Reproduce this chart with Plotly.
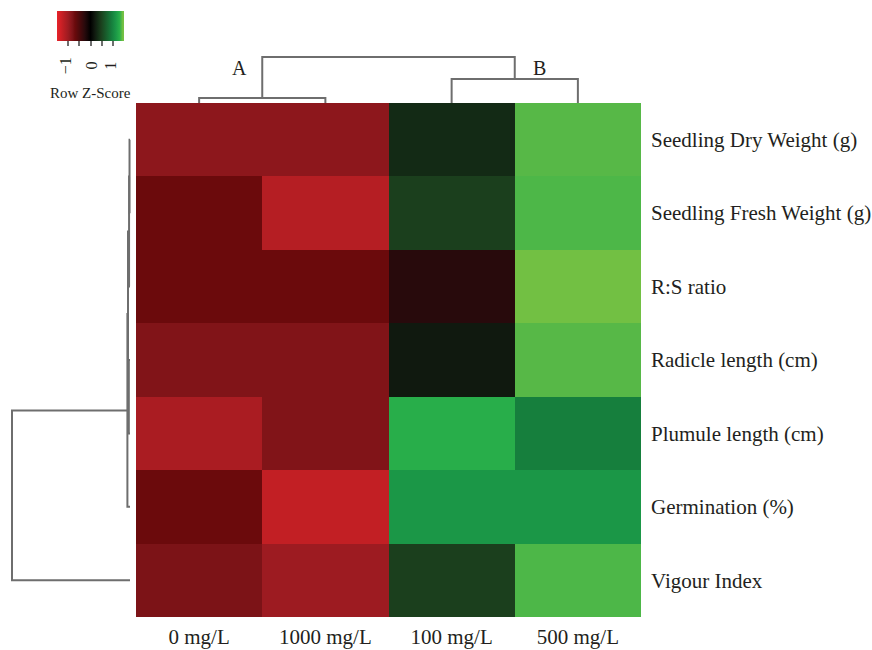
import plotly.graph_objects as go

# Treatments (column order after clustering) and traits (row order after clustering)
treatments = ["0 mg/L", "1000 mg/L", "100 mg/L", "500 mg/L"]
traits = [
    "Seedling Dry Weight (g)",
    "Seedling Fresh Weight (g)",
    "R:S ratio",
    "Radicle length (cm)",
    "Plumule length (cm)",
    "Germination (%)",
    "Vigour Index",
]

# Row-scaled values (Row Z-Score), one list per trait, in treatment order
z_dry_weight = [-0.90, -0.90, 0.31, 1.39]
z_fresh_weight = [-0.70, -1.16, 0.47, 1.37]
z_rs_ratio = [-0.70, -0.70, -0.26, 1.44]
z_radicle = [-0.83, -0.83, 0.19, 1.39]
z_plumule = [-1.09, -0.83, 1.30, 0.95]
z_germination = [-0.70, -1.25, 1.13, 1.13]
z_vigour = [-0.80, -1.00, 0.47, 1.37]
z_rows = [z_dry_weight, z_fresh_weight, z_rs_ratio, z_radicle,
          z_plumule, z_germination, z_vigour]

# Hierarchical clustering (scipy-style linkage: child a, child b, merge height)
col_linkage = [[0, 1, 0.11], [2, 3, 0.52], [4, 5, 1.00]]
row_linkage = [[0, 1, 0.004], [7, 2, 0.008], [3, 4, 0.010],
               [8, 9, 0.017], [10, 5, 0.022], [11, 6, 1.00]]

# Key ticks and labelled values
key_tickvals = [-1, -0.5, 0, 0.5, 1]
key_labels = [(-1, "\u22121"), (0, "0"), (1, "1")]

# ---- figure geometry (pixels) ----
W, H = 872, 650
HX0, HX1 = 136, 641      # heatmap left/right
HY0, HY1 = 103, 617      # heatmap top/bottom
KEY_X0, KEY_LEN = 57, 67  # colour key left edge and length
KEY_Y0, KEY_T = 11, 30    # colour key top edge and thickness
SERIF = "Liberation Serif, Times New Roman, serif"
TEXT = "#231f20"
TREE = "#6e6e6e"


def px_x(p):
    return p / W


def px_y(p):
    return 1 - p / H


# red - black - green colour ramp over z in [-1.5, 1.5]
ZMIN, ZMAX = -1.5, 1.5
ramp = [
    (-1.50, "#e8232a"), (-1.25, "#c21f24"), (-1.00, "#9d1b21"),
    (-0.80, "#7c1317"), (-0.70, "#6b0a0c"), (-0.26, "#280a0c"),
    (0.00, "#000000"), (0.19, "#10190f"), (0.31, "#132a15"),
    (0.47, "#1b3f1d"), (0.95, "#167f3d"), (1.13, "#1b9747"),
    (1.30, "#28ae4a"), (1.37, "#4db748"), (1.40, "#5cb946"),
    (1.44, "#72c043"), (1.50, "#76c244"),
]
colorscale = [[(z - ZMIN) / (ZMAX - ZMIN), c] for z, c in ramp]


def key_px(v):
    """Horizontal pixel position of value v on the colour key."""
    return KEY_X0 + (v - ZMIN) / (ZMAX - ZMIN) * KEY_LEN


def dendro_segments(linkage, n):
    """Return lists of (position, height) coordinates for U-shaped links."""
    pos = {i: float(i) for i in range(n)}
    hgt = {i: 0.0 for i in range(n)}
    P, Hh = [], []
    for k, (a, b, h) in enumerate(linkage):
        node = n + k
        P += [pos[a], pos[a], pos[b], pos[b], None]
        Hh += [hgt[a], h, h, hgt[b], None]
        pos[node] = (pos[a] + pos[b]) / 2
        hgt[node] = h
    return P, Hh


fig = go.Figure()

fig.add_trace(go.Heatmap(
    z=z_rows, x=treatments, y=traits,
    zmin=ZMIN, zmax=ZMAX, colorscale=colorscale,
    xgap=0, ygap=0, hoverongaps=False,
    colorbar=dict(
        orientation="h",
        x=px_x(KEY_X0), xanchor="left", xref="paper",
        y=px_y(KEY_Y0), yanchor="top", yref="paper",
        lenmode="pixels", len=KEY_LEN, thickness=KEY_T,
        xpad=0, ypad=0, outlinewidth=0,
        tickmode="array", tickvals=key_tickvals,
        ticktext=[""] * len(key_tickvals),
        ticks="outside", ticklen=5, tickwidth=2, tickcolor="#6e6e6e",
    ),
))

# column dendrogram (top)
cp, ch = dendro_segments(col_linkage, len(treatments))
fig.add_trace(go.Scatter(x=cp, y=ch, mode="lines", xaxis="x2", yaxis="y2",
                         line=dict(color=TREE, width=2), hoverinfo="skip",
                         showlegend=False, connectgaps=False))

# row dendrogram (left)
rp, rh = dendro_segments(row_linkage, len(traits))
fig.add_trace(go.Scatter(x=rh, y=rp, mode="lines", xaxis="x3", yaxis="y3",
                         line=dict(color=TREE, width=2), hoverinfo="skip",
                         showlegend=False, connectgaps=False))

top_unit = 46.0    # px per unit height, top tree
left_unit = 118.0  # px per unit height, left tree

annotations = [
    dict(text="A", x=px_x(239), y=px_y(68)),
    dict(text="B", x=px_x(539), y=px_y(68)),
]
for a in annotations:
    a.update(xref="paper", yref="paper", xanchor="center", yanchor="middle",
             showarrow=False, font=dict(family=SERIF, size=20, color=TEXT))

annotations.append(dict(
    text="Row Z-Score", x=px_x(90), y=px_y(93), xref="paper", yref="paper",
    xanchor="center", yanchor="middle", showarrow=False,
    font=dict(family=SERIF, size=15, color=TEXT)))

for v, label in key_labels:
    annotations.append(dict(
        text=label, x=px_x(key_px(v) - 3 * (v != 0)), y=px_y(66),
        xref="paper", yref="paper", xanchor="center", yanchor="middle",
        textangle=-90, showarrow=False,
        font=dict(family=SERIF, size=16, color=TEXT)))

fig.update_layout(
    width=W, height=H,
    margin=dict(l=0, r=0, t=0, b=0, autoexpand=False),
    paper_bgcolor="white", plot_bgcolor="white",
    showlegend=False,
    xaxis=dict(
        domain=[px_x(HX0), px_x(HX1)], anchor="y", automargin=False,
        showgrid=False, zeroline=False, showline=False, ticks="",
        tickfont=dict(family=SERIF, size=21, color=TEXT),
        ticklabelstandoff=5, fixedrange=True,
    ),
    yaxis=dict(
        domain=[px_y(HY1), px_y(HY0)], anchor="x", automargin=False,
        autorange="reversed", side="right",
        showgrid=False, zeroline=False, showline=False, ticks="",
        tickfont=dict(family=SERIF, size=21, color=TEXT),
        ticklabelstandoff=9, fixedrange=True,
    ),
    xaxis2=dict(
        domain=[px_x(HX0), px_x(HX1)], anchor="y2",
        range=[-0.5, len(treatments) - 0.5],
        visible=False, fixedrange=True,
    ),
    yaxis2=dict(
        domain=[px_y(HY0), px_y(HY0 - 1.1 * top_unit)], anchor="x2",
        range=[0, 1.1], visible=False, fixedrange=True,
    ),
    xaxis3=dict(
        domain=[px_x(130 - 1.05 * left_unit), px_x(130 + 0.02 * left_unit)],
        anchor="y3", range=[1.05, -0.02], visible=False, fixedrange=True,
    ),
    yaxis3=dict(
        domain=[px_y(HY1), px_y(HY0)], anchor="x3",
        range=[len(traits) - 0.5, -0.5], visible=False, fixedrange=True,
    ),
    annotations=annotations,
)

fig.write_html("out.html")
